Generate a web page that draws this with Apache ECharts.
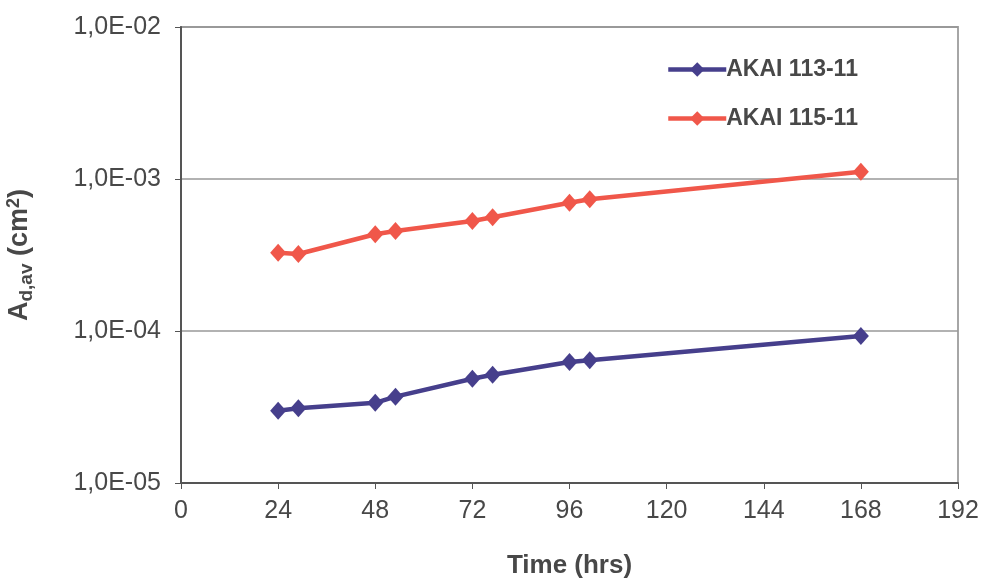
<!DOCTYPE html>
<html>
<head>
<meta charset="utf-8">
<script src="https://cdn.jsdelivr.net/npm/echarts@6/dist/echarts.min.js"></script>
<style>html,body{margin:0;padding:0;background:#fff}#c{width:983px;height:578px}</style>
</head>
<body>
<div id="c"></div>
<script>
var timeHrs = [24, 29, 48, 53, 72, 77, 96, 101, 168];
var akai113 = [2.99e-5, 3.10e-5, 3.37e-5, 3.70e-5, 4.85e-5, 5.15e-5, 6.25e-5, 6.41e-5, 9.27e-5];
var akai115 = [3.27e-4, 3.21e-4, 4.33e-4, 4.55e-4, 5.29e-4, 5.60e-4, 6.98e-4, 7.35e-4, 1.117e-3];
var seriesNames = ['AKAI 113-11', 'AKAI 115-11'];
var xTicks = [0, 24, 48, 72, 96, 120, 144, 168, 192];

function pairs(xs, ys) { return xs.map(function (x, i) { return [x, ys[i]]; }); }
var txt = '#484848';
var font = 'Liberation Sans, Arial, sans-serif';
var chart = echarts.init(document.getElementById('c'));
chart.setOption({
  animation: false,
  textStyle: { fontFamily: font },
  grid: { left: 181, right: 25, top: 27, bottom: 95, outerBoundsMode: 'none', containLabel: false,
          show: true, borderColor: '#a6a6a6', borderWidth: 2, backgroundColor: 'transparent' },
  legend: {
    orient: 'vertical', left: 661, top: 53, itemGap: 26,
    itemWidth: 58, itemHeight: 18,
    lineStyle: { width: 4.5 },
    textStyle: { fontSize: 23, fontWeight: 'bold', color: txt, fontFamily: font, padding: [0, 0, 0, -5] },
    data: seriesNames
  },
  xAxis: {
    type: 'value', min: 0, max: 192, interval: 24,
    name: 'Time (hrs)', nameLocation: 'middle', nameGap: 70,
    nameTextStyle: { fontSize: 26, fontWeight: 'bold', color: txt },
    axisLine: { lineStyle: { color: '#555', width: 2 } },
    axisTick: { show: true, length: 6, lineStyle: { color: '#555' } },
    axisLabel: { fontSize: 25, color: txt, margin: 16, formatter: function (v) { return xTicks.indexOf(v) >= 0 ? String(v) : ''; } },
    splitLine: { show: false }
  },
  yAxis: {
    type: 'log', logBase: 10, min: 1e-5, max: 1e-2,
    name: '{a|A}{s|d,av}{a| (cm}{p|2}{a|)}', nameLocation: 'middle', nameGap: 145, nameRotate: 90,
    nameTextStyle: {
      rich: {
        a: { fontSize: 27, fontWeight: 'bold', color: txt, lineHeight: 32, fontFamily: font },
        s: { fontSize: 19, fontWeight: 'bold', color: txt, lineHeight: 32, verticalAlign: 'bottom', padding: [13, 0, 0, 0], fontFamily: font },
        p: { fontSize: 18, fontWeight: 'bold', color: txt, lineHeight: 32, padding: [0, 0, 11, 0], fontFamily: font }
      }
    },
    axisLine: { show: true, lineStyle: { color: '#555', width: 2 } },
    axisTick: { show: true, length: 6, lineStyle: { color: '#555' } },
    axisLabel: { fontSize: 25, color: txt, margin: 20, formatter: function (v) {
      var e = Math.round(Math.log10(v));
      var s = Math.abs(e) < 10 ? '0' + Math.abs(e) : String(Math.abs(e));
      return '1,0E' + (e < 0 ? '-' : '+') + s;
    } },
    splitLine: { show: true, lineStyle: { color: '#999', width: 1.5 } },
    minorTick: { show: false }
  },
  series: [
    { name: seriesNames[0], type: 'line', data: pairs(timeHrs, akai113), symbol: 'diamond', symbolSize: [16, 18],
      lineStyle: { color: '#463F8C', width: 4.5 }, itemStyle: { color: '#463F8C' } },
    { name: seriesNames[1], type: 'line', data: pairs(timeHrs, akai115), symbol: 'diamond', symbolSize: [16, 18],
      lineStyle: { color: '#F0574A', width: 4.5 }, itemStyle: { color: '#F0574A' } }
  ]
});
</script>
</body>
</html>
